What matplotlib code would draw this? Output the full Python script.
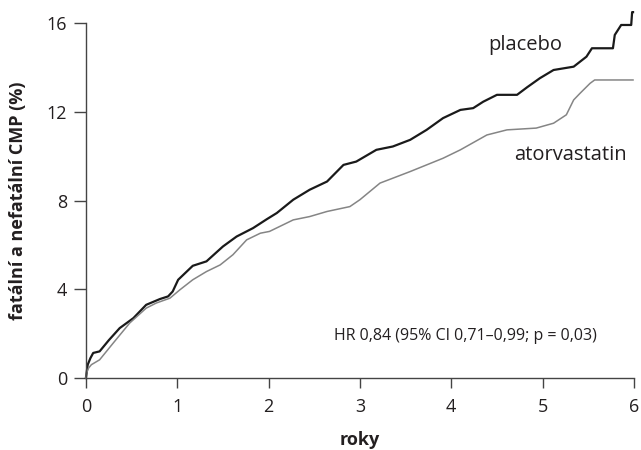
import matplotlib
matplotlib.use("Agg")
import matplotlib.pyplot as plt

# Kaplan-Meier style cumulative incidence
placebo_years = [0, 0.02, 0.05, 0.08, 0.15, 0.25, 0.37, 0.52, 0.66, 0.81, 0.90, 0.95,
                 1.01, 1.17, 1.32, 1.50, 1.65, 1.83, 1.98, 2.09, 2.27, 2.45, 2.64,
                 2.82, 2.96, 3.18, 3.36, 3.55, 3.73, 3.91, 4.10, 4.24, 4.35, 4.50,
                 4.72, 4.83, 4.97, 5.12, 5.34, 5.48, 5.54, 5.77, 5.79, 5.86, 5.97,
                 5.98, 5.99]
placebo_pct = [0, 0.6, 0.9, 1.13, 1.2, 1.7, 2.25, 2.7, 3.3, 3.56, 3.68, 3.9,
               4.43, 5.06, 5.26, 5.93, 6.38, 6.76, 7.16, 7.44, 8.04, 8.49, 8.86,
               9.61, 9.76, 10.29, 10.44, 10.74, 11.19, 11.72, 12.09, 12.17, 12.46,
               12.77, 12.77, 13.11, 13.52, 13.89, 14.04, 14.49, 14.87, 14.87, 15.47,
               15.92, 15.92, 16.5, 16.5]

ator_years = [0, 0.007, 0.03, 0.06, 0.15, 0.30, 0.48, 0.66, 0.77, 0.92, 1.03, 1.17,
              1.32, 1.47, 1.61, 1.76, 1.91, 2.01, 2.12, 2.27, 2.45, 2.64, 2.89, 3.00,
              3.22, 3.36, 3.55, 3.73, 3.91, 4.10, 4.39, 4.61, 4.93, 5.12, 5.26, 5.34,
              5.41, 5.52, 5.57, 5.99]
ator_pct = [0, 0.22, 0.45, 0.6, 0.82, 1.58, 2.48, 3.15, 3.38, 3.6, 3.98, 4.43,
            4.8, 5.1, 5.56, 6.23, 6.53, 6.61, 6.83, 7.13, 7.28, 7.51, 7.73, 8.04,
            8.79, 9.01, 9.31, 9.61, 9.91, 10.29, 10.96, 11.19, 11.27, 11.49, 11.87,
            12.54, 12.84, 13.29, 13.44, 13.44]

x_ticks = [0, 1, 2, 3, 4, 5, 6]
y_ticks = [0, 4, 8, 12, 16]

plt.rcParams["font.family"] = ["Open Sans", "DejaVu Sans"]
text_col = "#231f20"

fig = plt.figure(figsize=(6.41, 4.5), dpi=100)
ax = fig.add_axes([0.134, 0.16, 0.855, 0.818])

ax.plot(placebo_years, placebo_pct, color="#1a1a1a", lw=1.6, clip_on=False)
ax.plot(ator_years, ator_pct, color="#858585", lw=1.1, clip_on=False)

ax.set_xlim(0, 6)
ax.set_ylim(0, 16.6)
ax.set_xticks(x_ticks)
ax.set_yticks(y_ticks)
for side in ("top", "right"):
    ax.spines[side].set_visible(False)
ax.spines["left"].set_bounds(0, 16)
for side in ("left", "bottom"):
    ax.spines[side].set_color("#444444")
    ax.spines[side].set_linewidth(1.0)
ax.tick_params(axis="y", length=8.5, width=1.0, color="#444444", pad=5,
               labelsize=13, labelcolor=text_col)
ax.tick_params(axis="x", length=7.5, width=1.0, color="#444444", pad=7,
               labelsize=13, labelcolor=text_col)

ax.set_ylabel("fatální a nefatální CMP (%)", fontsize=13, fontweight="bold", color=text_col)
ax.yaxis.set_label_coords(-0.108, 16 / 2 / 16.6)
ax.set_xlabel("roky", fontsize=13, fontweight="bold", color=text_col)
ax.xaxis.set_label_coords(0.5, -0.145)

ax.text(4.81, 15.0, "placebo", fontsize=14.5, ha="center", va="center", color=text_col)
ax.text(5.31, 10.05, "atorvastatin", fontsize=14.5, ha="center", va="center", color=text_col)
ax.text(4.15, 1.9, "HR 0,84 (95% CI 0,71–0,99; p = 0,03)", fontsize=11.5,
        ha="center", va="center", color=text_col)

fig.savefig("out.png", dpi=100)
